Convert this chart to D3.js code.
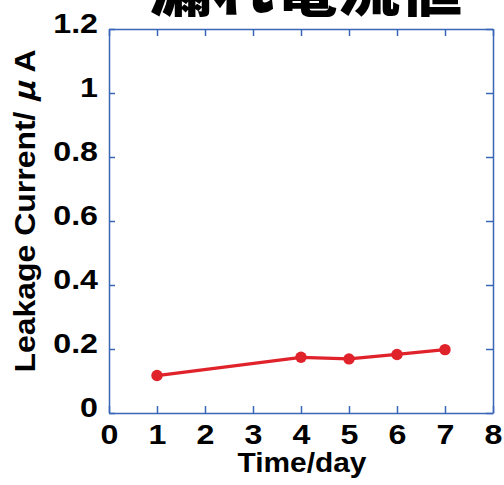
<!DOCTYPE html>
<html>
<head>
<meta charset="utf-8">
<script src="https://d3js.org/d3.v7.min.js"></script>
<style>
  body { margin: 0; background: #fff; }
  svg { display: block; }
</style>
</head>
<body>
<script>
  // data
  var days = [1, 4, 5, 6, 7];
  var leakage = [0.117, 0.174, 0.169, 0.183, 0.198];
  var xTicks = [0, 1, 2, 3, 4, 5, 6, 7, 8];
  var yTicks = [0, 0.2, 0.4, 0.6, 0.8, 1, 1.2];

  var W = 504, H = 485;
  var mLeft = 109, mRight = 493, mTop = 29, mBottom = 413;
  var axisColor = "#3a66b8";
  var red = "#e0222b";
  var sx = 1.15; // the labels look stretched sideways

  var svg = d3.select("body").append("svg")
      .attr("width", W)
      .attr("height", H);

  var x = d3.scaleLinear().domain([0, 8]).range([mLeft, mRight]);
  var y = d3.scaleLinear().domain([0, 1.2]).range([mBottom, mTop]);

  // title, its top is cut off by the edge
  svg.append("text")
      .attr("x", 306)
      .attr("y", 11)
      .attr("text-anchor", "middle")
      .attr("font-family", "'Noto Sans CJK JP', sans-serif")
      .attr("font-weight", 900)
      .attr("font-size", 60)
      .attr("textLength", 313)
      .attr("lengthAdjust", "spacingAndGlyphs")
      .text("漏れ電流値");

  // axes, ticks point inward on all sides
  var fmt = function(d) { return d3.format("")(d); };
  var gl = svg.append("g").attr("transform", "translate(" + mLeft + ",0)")
      .call(d3.axisLeft(y).tickValues(yTicks).tickSize(-6).tickSizeOuter(0).tickFormat(fmt));
  var gb = svg.append("g").attr("transform", "translate(0," + mBottom + ")")
      .call(d3.axisBottom(x).tickValues(xTicks).tickSize(-7).tickSizeOuter(0).tickFormat(fmt));
  var gr = svg.append("g").attr("transform", "translate(" + mRight + ",0)")
      .call(d3.axisRight(y).tickValues(yTicks).tickSize(-7).tickSizeOuter(0).tickFormat(""));
  var gt = svg.append("g").attr("transform", "translate(0," + mTop + ")")
      .call(d3.axisTop(x).tickValues(xTicks).tickSize(-7).tickSizeOuter(0).tickFormat(""));

  [gl, gb, gr, gt].forEach(function(g) {
    g.selectAll("path, line").attr("stroke", axisColor).attr("stroke-width", 1.5);
    g.selectAll("text")
        .attr("fill", "#000")
        .attr("font-family", "'Liberation Sans', Arial, sans-serif")
        .attr("font-weight", "bold")
        .attr("font-size", 28);
  });

  gl.selectAll("text")
      .attr("x", null).attr("dy", null).attr("y", 3)
      .attr("transform", "translate(-11,0) scale(" + sx + ",1)");
  gb.selectAll("text")
      .attr("dy", null).attr("y", 31)
      .attr("transform", "scale(" + sx + ",1)");

  // axis titles
  svg.append("text")
      .attr("x", 302)
      .attr("y", 472)
      .attr("text-anchor", "middle")
      .attr("font-family", "'Liberation Sans', Arial, sans-serif")
      .attr("font-weight", "bold")
      .attr("font-size", 27)
      .attr("textLength", 129)
      .attr("lengthAdjust", "spacingAndGlyphs")
      .text("Time/day");

  var yt = svg.append("text")
      .attr("transform", "translate(35,211) rotate(-90)")
      .attr("text-anchor", "middle")
      .attr("font-family", "'Liberation Sans', Arial, sans-serif")
      .attr("font-weight", "bold")
      .attr("font-size", 29)
      .attr("textLength", 323)
      .attr("lengthAdjust", "spacingAndGlyphs");
  yt.append("tspan").text("Leakage Current/ ");
  yt.append("tspan").attr("font-family", "'Noto Sans CJK JP', sans-serif").attr("font-style", "italic").text("μ");
  yt.append("tspan").text(" A");

  // the series
  var pts = days.map(function(d, i) { return [d, leakage[i]]; });
  var line = d3.line()
      .x(function(d) { return x(d[0]); })
      .y(function(d) { return y(d[1]); });

  svg.append("path")
      .attr("d", line(pts))
      .attr("fill", "none")
      .attr("stroke", red)
      .attr("stroke-width", 3.3);

  svg.selectAll("circle.pt").data(pts).enter().append("circle")
      .attr("class", "pt")
      .attr("cx", function(d) { return x(d[0]); })
      .attr("cy", function(d) { return y(d[1]); })
      .attr("r", 5.7)
      .attr("fill", red);
</script>
</body>
</html>
